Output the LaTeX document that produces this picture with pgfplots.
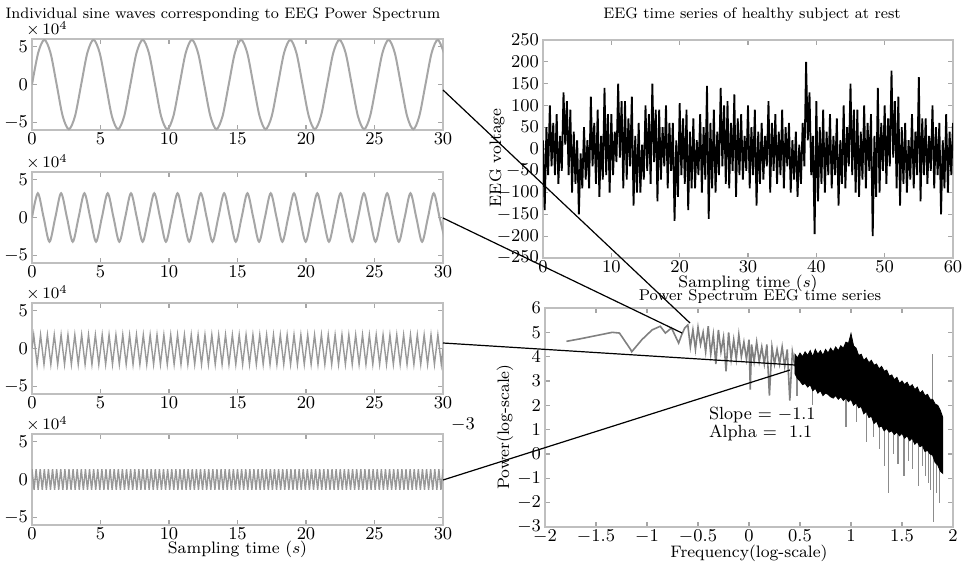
\documentclass[border=0pt]{standalone}
\usepackage{pgfplots}
\pgfplotsset{compat=1.18}

\pgfplotsset{
  frame/.style={
    scale only axis, anchor=north west,
    axis line style={black!25, line width=0.9pt},
    tick style={black!35, line width=0.6pt},
    major tick length=2.5pt,
    tick align=inside,
    ticklabel style={font=\fontsize{9}{10}\selectfont},
    xticklabel style={yshift=2pt},
    yticklabel style={xshift=1.5pt},
    /pgf/number format/fixed,
    label style={font=\fontsize{8.3}{10}\selectfont},
  },
  sine/.style={frame, width=205.5pt, height=45.5pt,
    xmin=0, xmax=30, ymin=-6, ymax=6,
    xtick={0,5,...,30}, ytick={-5,0,5},
    after end axis/.code={\node[anchor=south west, inner sep=1pt, xshift=-4pt,
      font=\fontsize{8.5}{10}\selectfont] at (rel axis cs:0,1) {$\times\,10^{4}$};}},
  wave/.style={black!35, line width=1pt},
}

\begin{document}
\begin{tikzpicture}[font=\fontsize{8.3}{10}\selectfont]
\useasboundingbox (0,0) rectangle (481pt,-281pt);

% left column: four sine components
\begin{axis}[sine, at={(16pt,-19.5pt)}]
\addplot[wave, smooth] coordinates {(0,0) (0.45,4.17) (0.90,5.9) (1.35,4.17) (1.80,0) (2.24,-4.17) (2.69,-5.9) (3.14,-4.17) (3.59,0) (4.04,4.17) (4.49,5.9) (4.94,4.17) (5.39,0) (5.83,-4.17) (6.28,-5.9) (6.73,-4.17) (7.18,0) (7.63,4.17) (8.08,5.9) (8.53,4.17) (8.98,0) (9.42,-4.17) (9.87,-5.9) (10.32,-4.17) (10.77,0) (11.22,4.17) (11.67,5.9) (12.12,4.17) (12.57,0) (13.02,-4.17) (13.46,-5.9) (13.91,-4.17) (14.36,0) (14.81,4.17) (15.26,5.9) (15.71,4.17) (16.16,0) (16.61,-4.17) (17.05,-5.9) (17.50,-4.17) (17.95,0) (18.40,4.17) (18.85,5.9) (19.30,4.17) (19.75,0) (20.20,-4.17) (20.64,-5.9) (21.09,-4.17) (21.54,0) (21.99,4.17) (22.44,5.9) (22.89,4.17) (23.34,0) (23.79,-4.17) (24.24,-5.9) (24.68,-4.17) (25.13,0) (25.58,4.17) (26.03,5.9) (26.48,4.17) (26.93,0) (27.38,-4.17) (27.83,-5.9) (28.27,-4.17) (28.72,0) (29.17,4.17) (29.62,5.9) (30.07,4.17)};
\end{axis}

\begin{axis}[sine, at={(16pt,-86pt)}]
\addplot[wave, smooth] coordinates {(0,0) (0.425,3.2) (0.85,0) (1.275,-3.2) (1.7,0) (2.125,3.2) (2.55,0) (2.975,-3.2) (3.4,0) (3.825,3.2) (4.25,0) (4.675,-3.2) (5.1,0) (5.525,3.2) (5.95,0) (6.375,-3.2) (6.8,0) (7.225,3.2) (7.65,0) (8.075,-3.2) (8.5,0) (8.925,3.2) (9.35,0) (9.775,-3.2) (10.2,0) (10.625,3.2) (11.05,0) (11.475,-3.2) (11.9,0) (12.325,3.2) (12.75,0) (13.175,-3.2) (13.6,0) (14.025,3.2) (14.45,0) (14.875,-3.2) (15.3,0) (15.725,3.2) (16.15,0) (16.575,-3.2) (17,0) (17.425,3.2) (17.85,0) (18.275,-3.2) (18.7,0) (19.125,3.2) (19.55,0) (19.975,-3.2) (20.4,0) (20.825,3.2) (21.25,0) (21.675,-3.2) (22.1,0) (22.525,3.2) (22.95,0) (23.375,-3.2) (23.8,0) (24.225,3.2) (24.65,0) (25.075,-3.2) (25.5,0) (25.925,3.2) (26.35,0) (26.775,-3.2) (27.2,0) (27.625,3.2) (28.05,0) (28.475,-3.2) (28.9,0) (29.325,3.2) (29.75,0) (30.175,-3.2)};
\end{axis}

\begin{axis}[sine, at={(16pt,-151.5pt)}]
\addplot[black!40, line width=0.7pt] coordinates {(0,0)
(0.125,1.8) (0.375,-2.1) (0.625,1.8) (0.875,-2.1) (1.125,1.8) (1.375,-2.1) (1.625,1.8) (1.875,-2.1) (2.125,1.8) (2.375,-2.1) (2.625,1.8) (2.875,-2.1) (3.125,1.8) (3.375,-2.1) (3.625,1.8) (3.875,-2.1) (4.125,1.8) (4.375,-2.1) (4.625,1.8) (4.875,-2.1)
(5.125,1.8) (5.375,-2.1) (5.625,1.8) (5.875,-2.1) (6.125,1.8) (6.375,-2.1) (6.625,1.8) (6.875,-2.1) (7.125,1.8) (7.375,-2.1) (7.625,1.8) (7.875,-2.1) (8.125,1.8) (8.375,-2.1) (8.625,1.8) (8.875,-2.1) (9.125,1.8) (9.375,-2.1) (9.625,1.8) (9.875,-2.1)
(10.125,1.8) (10.375,-2.1) (10.625,1.8) (10.875,-2.1) (11.125,1.8) (11.375,-2.1) (11.625,1.8) (11.875,-2.1) (12.125,1.8) (12.375,-2.1) (12.625,1.8) (12.875,-2.1) (13.125,1.8) (13.375,-2.1) (13.625,1.8) (13.875,-2.1) (14.125,1.8) (14.375,-2.1) (14.625,1.8) (14.875,-2.1)
(15.125,1.8) (15.375,-2.1) (15.625,1.8) (15.875,-2.1) (16.125,1.8) (16.375,-2.1) (16.625,1.8) (16.875,-2.1) (17.125,1.8) (17.375,-2.1) (17.625,1.8) (17.875,-2.1) (18.125,1.8) (18.375,-2.1) (18.625,1.8) (18.875,-2.1) (19.125,1.8) (19.375,-2.1) (19.625,1.8) (19.875,-2.1)
(20.125,1.8) (20.375,-2.1) (20.625,1.8) (20.875,-2.1) (21.125,1.8) (21.375,-2.1) (21.625,1.8) (21.875,-2.1) (22.125,1.8) (22.375,-2.1) (22.625,1.8) (22.875,-2.1) (23.125,1.8) (23.375,-2.1) (23.625,1.8) (23.875,-2.1) (24.125,1.8) (24.375,-2.1) (24.625,1.8) (24.875,-2.1)
(25.125,1.8) (25.375,-2.1) (25.625,1.8) (25.875,-2.1) (26.125,1.8) (26.375,-2.1) (26.625,1.8) (26.875,-2.1) (27.125,1.8) (27.375,-2.1) (27.625,1.8) (27.875,-2.1) (28.125,1.8) (28.375,-2.1) (28.625,1.8) (28.875,-2.1) (29.125,1.8) (29.375,-2.1) (29.625,1.8) (29.875,-2.1) (30,0)};
\end{axis}

\begin{axis}[sine, at={(16pt,-217pt)},
  xlabel={Sampling time ($s$)},
  xlabel style={at={(axis description cs:0.5,-0.27)}, anchor=center}]
\addplot[black!40, line width=0.7pt] coordinates {
(0,1.35) (0.15,-1.35) (0.3,1.35) (0.45,-1.35) (0.6,1.35) (0.75,-1.35) (0.9,1.35) (1.05,-1.35) (1.2,1.35) (1.35,-1.35) (1.5,1.35) (1.65,-1.35) (1.8,1.35) (1.95,-1.35) (2.1,1.35) (2.25,-1.35) (2.4,1.35) (2.55,-1.35) (2.7,1.35) (2.85,-1.35)
(3,1.35) (3.15,-1.35) (3.3,1.35) (3.45,-1.35) (3.6,1.35) (3.75,-1.35) (3.9,1.35) (4.05,-1.35) (4.2,1.35) (4.35,-1.35) (4.5,1.35) (4.65,-1.35) (4.8,1.35) (4.95,-1.35) (5.1,1.35) (5.25,-1.35) (5.4,1.35) (5.55,-1.35) (5.7,1.35) (5.85,-1.35)
(6,1.35) (6.15,-1.35) (6.3,1.35) (6.45,-1.35) (6.6,1.35) (6.75,-1.35) (6.9,1.35) (7.05,-1.35) (7.2,1.35) (7.35,-1.35) (7.5,1.35) (7.65,-1.35) (7.8,1.35) (7.95,-1.35) (8.1,1.35) (8.25,-1.35) (8.4,1.35) (8.55,-1.35) (8.7,1.35) (8.85,-1.35)
(9,1.35) (9.15,-1.35) (9.3,1.35) (9.45,-1.35) (9.6,1.35) (9.75,-1.35) (9.9,1.35) (10.05,-1.35) (10.2,1.35) (10.35,-1.35) (10.5,1.35) (10.65,-1.35) (10.8,1.35) (10.95,-1.35) (11.1,1.35) (11.25,-1.35) (11.4,1.35) (11.55,-1.35) (11.7,1.35) (11.85,-1.35)
(12,1.35) (12.15,-1.35) (12.3,1.35) (12.45,-1.35) (12.6,1.35) (12.75,-1.35) (12.9,1.35) (13.05,-1.35) (13.2,1.35) (13.35,-1.35) (13.5,1.35) (13.65,-1.35) (13.8,1.35) (13.95,-1.35) (14.1,1.35) (14.25,-1.35) (14.4,1.35) (14.55,-1.35) (14.7,1.35) (14.85,-1.35)
(15,1.35) (15.15,-1.35) (15.3,1.35) (15.45,-1.35) (15.6,1.35) (15.75,-1.35) (15.9,1.35) (16.05,-1.35) (16.2,1.35) (16.35,-1.35) (16.5,1.35) (16.65,-1.35) (16.8,1.35) (16.95,-1.35) (17.1,1.35) (17.25,-1.35) (17.4,1.35) (17.55,-1.35) (17.7,1.35) (17.85,-1.35)
(18,1.35) (18.15,-1.35) (18.3,1.35) (18.45,-1.35) (18.6,1.35) (18.75,-1.35) (18.9,1.35) (19.05,-1.35) (19.2,1.35) (19.35,-1.35) (19.5,1.35) (19.65,-1.35) (19.8,1.35) (19.95,-1.35) (20.1,1.35) (20.25,-1.35) (20.4,1.35) (20.55,-1.35) (20.7,1.35) (20.85,-1.35)
(21,1.35) (21.15,-1.35) (21.3,1.35) (21.45,-1.35) (21.6,1.35) (21.75,-1.35) (21.9,1.35) (22.05,-1.35) (22.2,1.35) (22.35,-1.35) (22.5,1.35) (22.65,-1.35) (22.8,1.35) (22.95,-1.35) (23.1,1.35) (23.25,-1.35) (23.4,1.35) (23.55,-1.35) (23.7,1.35) (23.85,-1.35)
(24,1.35) (24.15,-1.35) (24.3,1.35) (24.45,-1.35) (24.6,1.35) (24.75,-1.35) (24.9,1.35) (25.05,-1.35) (25.2,1.35) (25.35,-1.35) (25.5,1.35) (25.65,-1.35) (25.8,1.35) (25.95,-1.35) (26.1,1.35) (26.25,-1.35) (26.4,1.35) (26.55,-1.35) (26.7,1.35) (26.85,-1.35)
(27,1.35) (27.15,-1.35) (27.3,1.35) (27.45,-1.35) (27.6,1.35) (27.75,-1.35) (27.9,1.35) (28.05,-1.35) (28.2,1.35) (28.35,-1.35) (28.5,1.35) (28.65,-1.35) (28.8,1.35) (28.95,-1.35) (29.1,1.35) (29.25,-1.35) (29.4,1.35) (29.55,-1.35) (29.7,1.35) (29.85,-1.35) (30,1.35)};
\end{axis}

% right top: EEG time series
\begin{axis}[frame, at={(271.5pt,-20pt)}, width=205pt, height=109pt,
  xmin=0, xmax=60, ymin=-250, ymax=250,
  xtick={0,10,...,60}, ytick={-250,-200,...,250},
  xlabel={Sampling time ($s$)},
  xlabel style={at={(axis description cs:0.5,-0.115)}, anchor=center},
  ylabel={EEG voltage},
  ylabel style={at={(axis description cs:-0.112,0.46)}, anchor=center}]
\addplot[black, line width=0.9pt] coordinates {
(0,20) (0.25,-140) (0.5,50) (0.75,-60) (1,100) (1.25,-40) (1.5,60) (1.75,-60) (2,80) (2.25,-80) (2.5,30) (2.75,-50) (3,130) (3.25,10) (3.5,110) (3.75,-60) (4,90) (4.25,-100) (4.5,40) (4.75,-80)
(5,20) (5.25,-150) (5.5,-10) (5.75,-90) (6,50) (6.25,-70) (6.5,20) (6.75,-90) (7,120) (7.25,-40) (7.5,60) (7.75,-80) (8,90) (8.25,-110) (8.5,30) (8.75,-70) (9,140) (9.25,-60) (9.5,80) (9.75,-100)
(10,80) (10.25,-60) (10.5,40) (10.75,-30) (11,150) (11.25,-20) (11.5,110) (11.75,-90) (12,110) (12.25,-70) (12.5,70) (12.75,-40) (13,120) (13.25,-130) (13.5,30) (13.75,-100) (14,60) (14.25,-100) (14.5,10) (14.75,-70)
(15,100) (15.25,-50) (15.5,80) (15.75,-80) (16,150) (16.25,-30) (16.5,90) (16.75,-120) (17,90) (17.25,-70) (17.5,50) (17.75,-40) (18,100) (18.25,-90) (18.5,60) (18.75,-50) (19,60) (19.25,-165) (19.5,20) (19.75,-110)
(20,105) (20.25,-60) (20.5,70) (20.75,-80) (21,90) (21.25,-140) (21.5,40) (21.75,-90) (22,70) (22.25,-90) (22.5,20) (22.75,-60) (23,80) (23.25,-100) (23.5,50) (23.75,-70) (24,145) (24.25,-160) (24.5,60) (24.75,-90)
(25,90) (25.25,-100) (25.5,40) (25.75,-60) (26,140) (26.25,-40) (26.5,100) (26.75,-80) (27,110) (27.25,-90) (27.5,60) (27.75,-50) (28,125) (28.25,-110) (28.5,70) (28.75,-60) (29,80) (29.25,-70) (29.5,30) (29.75,-50)
(30,100) (30.25,-90) (30.5,50) (30.75,-60) (31,90) (31.25,-130) (31.5,40) (31.75,-80) (32,60) (32.25,-70) (32.5,30) (32.75,-40) (33,110) (33.25,-100) (33.5,60) (33.75,-50) (34,80) (34.25,-80) (34.5,40) (34.75,-60)
(35,90) (35.25,-90) (35.5,50) (35.75,-40) (36,60) (36.25,-100) (36.5,20) (36.75,-70) (37,40) (37.25,-110) (37.5,10) (37.75,-80) (38,60) (38.25,-40) (38.5,200) (38.75,20) (39,130) (39.25,-60) (39.5,30) (39.75,-195)
(40,110) (40.25,-120) (40.5,50) (40.75,-80) (41,90) (41.25,-100) (41.5,40) (41.75,-60) (42,80) (42.25,-90) (42.5,30) (42.75,-60) (43,70) (43.25,-130) (43.5,20) (43.75,-80) (44,100) (44.25,-90) (44.5,50) (44.75,-40)
(45,150) (45.25,-60) (45.5,90) (45.75,-100) (46,90) (46.25,-110) (46.5,40) (46.75,-70) (47,100) (47.25,-90) (47.5,60) (47.75,-50) (48,80) (48.25,-200) (48.5,30) (48.75,-110) (49,140) (49.25,-100) (49.5,60) (49.75,-50)
(50,100) (50.25,-80) (50.5,70) (50.75,-40) (51,180) (51.25,-20) (51.5,110) (51.75,-90) (52,120) (52.25,-130) (52.5,50) (52.75,-80) (53,60) (53.25,-100) (53.5,20) (53.75,-70) (54,80) (54.25,-90) (54.5,40) (54.75,-60)
(55,165) (55.25,-120) (55.5,70) (55.75,-60) (56,70) (56.25,-80) (56.5,30) (56.75,-50) (57,100) (57.25,-90) (57.5,50) (57.75,-60) (58,60) (58.25,-150) (58.5,20) (58.75,-90) (59,80) (59.25,-100) (59.5,40) (59.75,-60) (60,60)};
\end{axis}

% right bottom: power spectrum
\begin{axis}[frame, at={(272.5pt,-154pt)}, width=204pt, height=109.5pt,
  xmin=-2, xmax=2, ymin=-3, ymax=6,
  xtick={-2,-1.5,...,2}, ytick={-3,-2,...,6},
  unbounded coords=jump,
  xlabel={Frequency(log-scale)},
  xlabel style={at={(axis description cs:0.5,-0.12)}, anchor=center},
  ylabel={Power(log-scale)},
  ylabel style={at={(axis description cs:-0.098,0.457)}, anchor=center}]
\addplot[black!50, line width=0.8pt] coordinates {
(-1.79,4.63) (-1.66,4.73) (-1.34,5.0) (-1.27,4.97) (-1.16,4.29) (-1.15,4.2) (-1.05,4.7) (-0.95,5.1) (-0.87,5.25) (-0.82,4.97) (-0.76,5.18) (-0.69,4.56) (-0.66,4.9) (-0.63,5.18)
(-0.6,5.3) (-0.575,4.4) (-0.55,5.1) (-0.525,4.3) (-0.5,5.2) (-0.475,4.5) (-0.45,5.0) (-0.425,4.2) (-0.4,5.25) (-0.375,4.1) (-0.35,4.9) (-0.325,3.7) (-0.3,5.1) (-0.275,4.2) (-0.25,4.8) (-0.225,3.4) (-0.2,5.0) (-0.175,3.9) (-0.15,4.7) (-0.125,3.9) (-0.1,4.9) (-0.075,4.0) (-0.05,4.6) (-0.025,3.9)
(0,4.7) (0.0125,2.65) (0.025,4.5) (0.05,3.8) (0.075,4.6) (0.1,3.8) (0.125,4.4) (0.15,3.7) (0.175,4.5) (0.2,2.4) (0.225,4.4) (0.25,3.7) (0.275,4.3) (0.3,3.7) (0.325,4.4) (0.35,3.6) (0.375,4.3) (0.4,2.2) (0.425,4.2) (0.45,3.6)};
\addplot[black!45, line width=0.6pt] coordinates {
(0.47,3.3) (0.47,2.4) (0.47,nan) (0.62,2.9) (0.62,2.0) (0.62,nan) (0.95,2.3) (0.95,1.1) (0.95,nan) (1.05,2.0) (1.05,1.3) (1.05,nan)
(1.15,1.7) (1.15,0.5) (1.15,nan) (1.22,1.5) (1.22,0.7) (1.22,nan) (1.28,1.2) (1.28,0.2) (1.28,nan) (1.33,1.0) (1.33,-0.5) (1.33,nan)
(1.37,1.0) (1.37,-1.6) (1.37,nan) (1.42,0.9) (1.42,0.0) (1.42,nan) (1.46,0.9) (1.46,-0.4) (1.46,nan) (1.52,0.7) (1.52,-0.9) (1.52,nan)
(1.56,0.7) (1.56,-0.3) (1.56,nan) (1.6,0.6) (1.6,-0.6) (1.6,nan) (1.66,0.4) (1.66,-1.3) (1.66,nan) (1.7,0.3) (1.7,-0.5) (1.7,nan)
(1.73,0.2) (1.73,-0.9) (1.73,nan) (1.76,0.1) (1.76,-1.2) (1.76,nan) (1.78,0.0) (1.78,-1.5) (1.78,nan) (1.81,0.0) (1.81,-2.8) (1.81,nan)
(1.84,-0.3) (1.84,-1.6) (1.84,nan) (1.87,-0.5) (1.87,-2.0) (1.87,nan) (1.8,2.2) (1.8,4.1)};
\addplot[fill=black, draw=black, line width=0.4pt] coordinates {
(0.45,4.1) (0.475,3.95) (0.5,4.15) (0.525,4.0) (0.55,4.2) (0.575,4.05) (0.6,4.25) (0.625,4.0) (0.65,4.3) (0.675,4.1) (0.7,4.25) (0.725,4.05) (0.75,4.3) (0.775,4.15) (0.8,4.35) (0.825,4.2) (0.85,4.4) (0.875,4.25) (0.9,4.45) (0.925,4.35)
(0.95,4.6) (0.975,4.55) (1.0,4.95) (1.025,4.45) (1.05,4.35) (1.075,4.05) (1.1,4.1) (1.125,3.85) (1.15,3.95) (1.175,3.75) (1.2,3.85) (1.225,3.65) (1.25,3.7) (1.275,3.5) (1.3,3.6) (1.325,3.4) (1.35,3.45) (1.375,3.2) (1.4,3.25) (1.425,3.05)
(1.45,3.15) (1.475,2.9) (1.5,3.0) (1.525,2.85) (1.55,2.95) (1.575,2.75) (1.6,2.85) (1.625,2.65) (1.65,2.75) (1.675,2.5) (1.7,2.6) (1.725,2.4) (1.75,2.45) (1.775,2.25) (1.8,2.25) (1.825,2.05) (1.85,2.0) (1.875,1.8) (1.9,1.5)
(1.9,-0.8) (1.875,-0.7) (1.85,-0.45) (1.825,-0.35) (1.8,-0.05) (1.775,0.0) (1.75,0.15) (1.725,0.1) (1.7,0.35) (1.675,0.3) (1.65,0.5) (1.625,0.4) (1.6,0.65) (1.575,0.55) (1.55,0.75) (1.525,0.65) (1.5,0.85) (1.475,0.75) (1.45,0.9) (1.425,0.8)
(1.4,0.95) (1.375,0.9) (1.35,1.05) (1.325,0.95) (1.3,1.15) (1.275,1.1) (1.25,1.35) (1.225,1.25) (1.2,1.55) (1.175,1.5) (1.15,1.75) (1.125,1.65) (1.1,1.95) (1.075,1.9) (1.05,2.1) (1.025,2.0) (1.0,2.25) (0.975,2.15) (0.95,2.3) (0.925,2.2)
(0.9,2.35) (0.875,2.25) (0.85,2.4) (0.825,2.3) (0.8,2.35) (0.775,2.45) (0.75,2.5) (0.725,2.4) (0.7,2.6) (0.675,2.5) (0.65,2.7) (0.625,2.6) (0.6,2.85) (0.575,2.75) (0.55,2.9) (0.525,2.85) (0.5,3.0) (0.475,3.1) (0.45,3.3)} -- cycle;
\end{axis}

% titles and notes
\node[font=\fontsize{7.6}{9}\selectfont] at (111.5pt,-7.5pt) {Individual sine waves corresponding to EEG Power Spectrum};
\node[font=\fontsize{7.6}{9}\selectfont] at (376pt,-7.5pt) {EEG time series of healthy subject at rest};
\node[font=\fontsize{7.8}{9}\selectfont] at (380pt,-148.5pt) {Power Spectrum EEG time series};
\node[anchor=west, font=\fontsize{8.8}{10}\selectfont] at (351pt,-207.5pt) {Slope = $-$1.1};
\node[anchor=west, font=\fontsize{8.8}{10}\selectfont] at (351pt,-216.5pt) {Alpha =\ \ 1.1};
\node[font=\fontsize{8.8}{10}\selectfont] at (231.5pt,-212.5pt) {$-3$};

% lines linking each component to the spectrum
\draw[line width=0.6pt] (221.5pt,-45pt) -- (345pt,-161.5pt);
\draw[line width=0.6pt] (221.5pt,-109pt) -- (341pt,-166.5pt);
\draw[line width=0.6pt] (221.5pt,-171.5pt) -- (397.5pt,-182.5pt);
\draw[line width=0.6pt] (221.5pt,-240pt) -- (395pt,-185pt);
\end{tikzpicture}
\end{document}
